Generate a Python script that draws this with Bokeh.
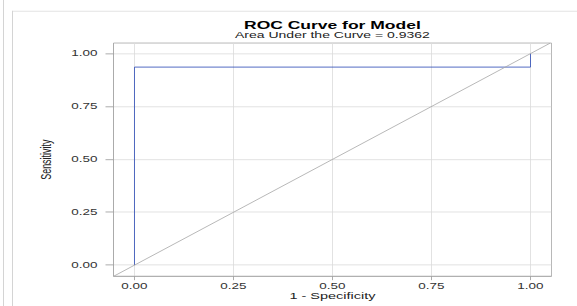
from bokeh.plotting import figure
from bokeh.models import (Range1d, FixedTicker, Slope, Title, InlineStyleSheet,
                          GlobalInlineStyleSheet)
from bokeh.embed import file_html
from bokeh.resources import INLINE

# ---- data ----
fpr = [0.0, 0.0, 1.0, 1.0]            # 1 - Specificity
tpr = [0.0, 0.9362, 0.9362, 1.0]      # Sensitivity
tick_values = [0.0, 0.25, 0.5, 0.75, 1.0]
tick_labels = ["0.00", "0.25", "0.50", "0.75", "1.00"]
title_text = "ROC Curve for Model"
subtitle_text = "Area Under the Curve = 0.9362"
x_label = "1 - Specificity"
y_label = "Sensitivity"

FONT = "Liberation Sans"
SY = 0.6375            # the reference graphic is squeezed vertically
W = 577
H = 753                # Bokeh measures the (scaled) box, giving a 480px canvas shown at 306px

p = figure(width=W, height=H, output_backend="svg", toolbar_location=None,
           x_range=Range1d(-0.053, 1.053), y_range=Range1d(-0.053, 1.05),
           min_border_left=113, min_border_right=26, min_border_top=67,
           min_border_bottom=47, title=title_text)

p.border_fill_color = "white"
p.background_fill_color = "white"
p.outline_line_color = "#a8a8a8"
p.stylesheets = [
    GlobalInlineStyleSheet(css="html,body{overflow:hidden;}"),
    InlineStyleSheet(css=(
        ":host{position:absolute !important;left:0;top:0;"
        "transform:scaleY(%s);transform-origin:0 0;}"
        ":host::before{content:'';position:absolute;left:3px;top:0;height:480px;width:0;"
        "border-left:1px solid #d4d4d4;z-index:10;pointer-events:none;}"
        ":host::after{content:'';position:absolute;left:12px;top:17.25px;right:0;height:463px;"
        "border-left:1px solid #d4d4d4;border-top:1.57px solid #d4d4d4;z-index:10;"
        "pointer-events:none;}"
    ) % SY),
]

# titles
p.title.align = "center"
p.title.text_font = FONT
p.title.text_font_size = "17.5px"
p.title.text_font_style = "bold"
p.title.text_color = "black"
p.title.standoff = -22
p.add_layout(Title(text=subtitle_text, align="center", text_font=FONT,
                   text_font_size="14px", text_font_style="normal",
                   text_color="#222222", standoff=11), "above")

# axes
for ax in (p.xaxis[0], p.yaxis[0]):
    ax.ticker = FixedTicker(ticks=tick_values)
    ax.major_label_overrides = dict(zip(tick_values, tick_labels))
    ax.axis_line_color = "#a8a8a8"
    ax.major_tick_line_color = "#9a9a9a"
    ax.major_tick_in = 0
    ax.minor_tick_out = 0
    ax.minor_tick_in = 0
    ax.major_label_text_font = FONT
    ax.major_label_text_font_size = "13.5px"
    ax.major_label_text_color = "#333333"
    ax.axis_label_text_font = FONT
    ax.axis_label_text_font_style = "normal"
    ax.axis_label_text_color = "#222222"

p.xaxis.axis_label = x_label
p.xaxis.axis_label_text_font_size = "14.5px"
p.xaxis.major_tick_out = 6
p.xaxis.major_label_standoff = 5
p.xaxis.axis_label_standoff = 0

p.yaxis.axis_label = y_label
p.yaxis.axis_label_text_font_size = "14px"
p.yaxis.major_tick_out = 8
p.yaxis.major_label_standoff = 8
p.yaxis.axis_label_standoff = 14

p.grid.grid_line_color = "#dcdcdc"
p.xgrid.ticker = FixedTicker(ticks=tick_values)
p.ygrid.ticker = FixedTicker(ticks=tick_values)

# diagonal reference line
p.add_layout(Slope(gradient=1, y_intercept=0, line_color="#a8a8a8", line_width=1))
# ROC curve
p.line(fpr, tpr, line_color="#2c4bb5", line_width=1)

open("out.html", "w").write(file_html(p, INLINE))
